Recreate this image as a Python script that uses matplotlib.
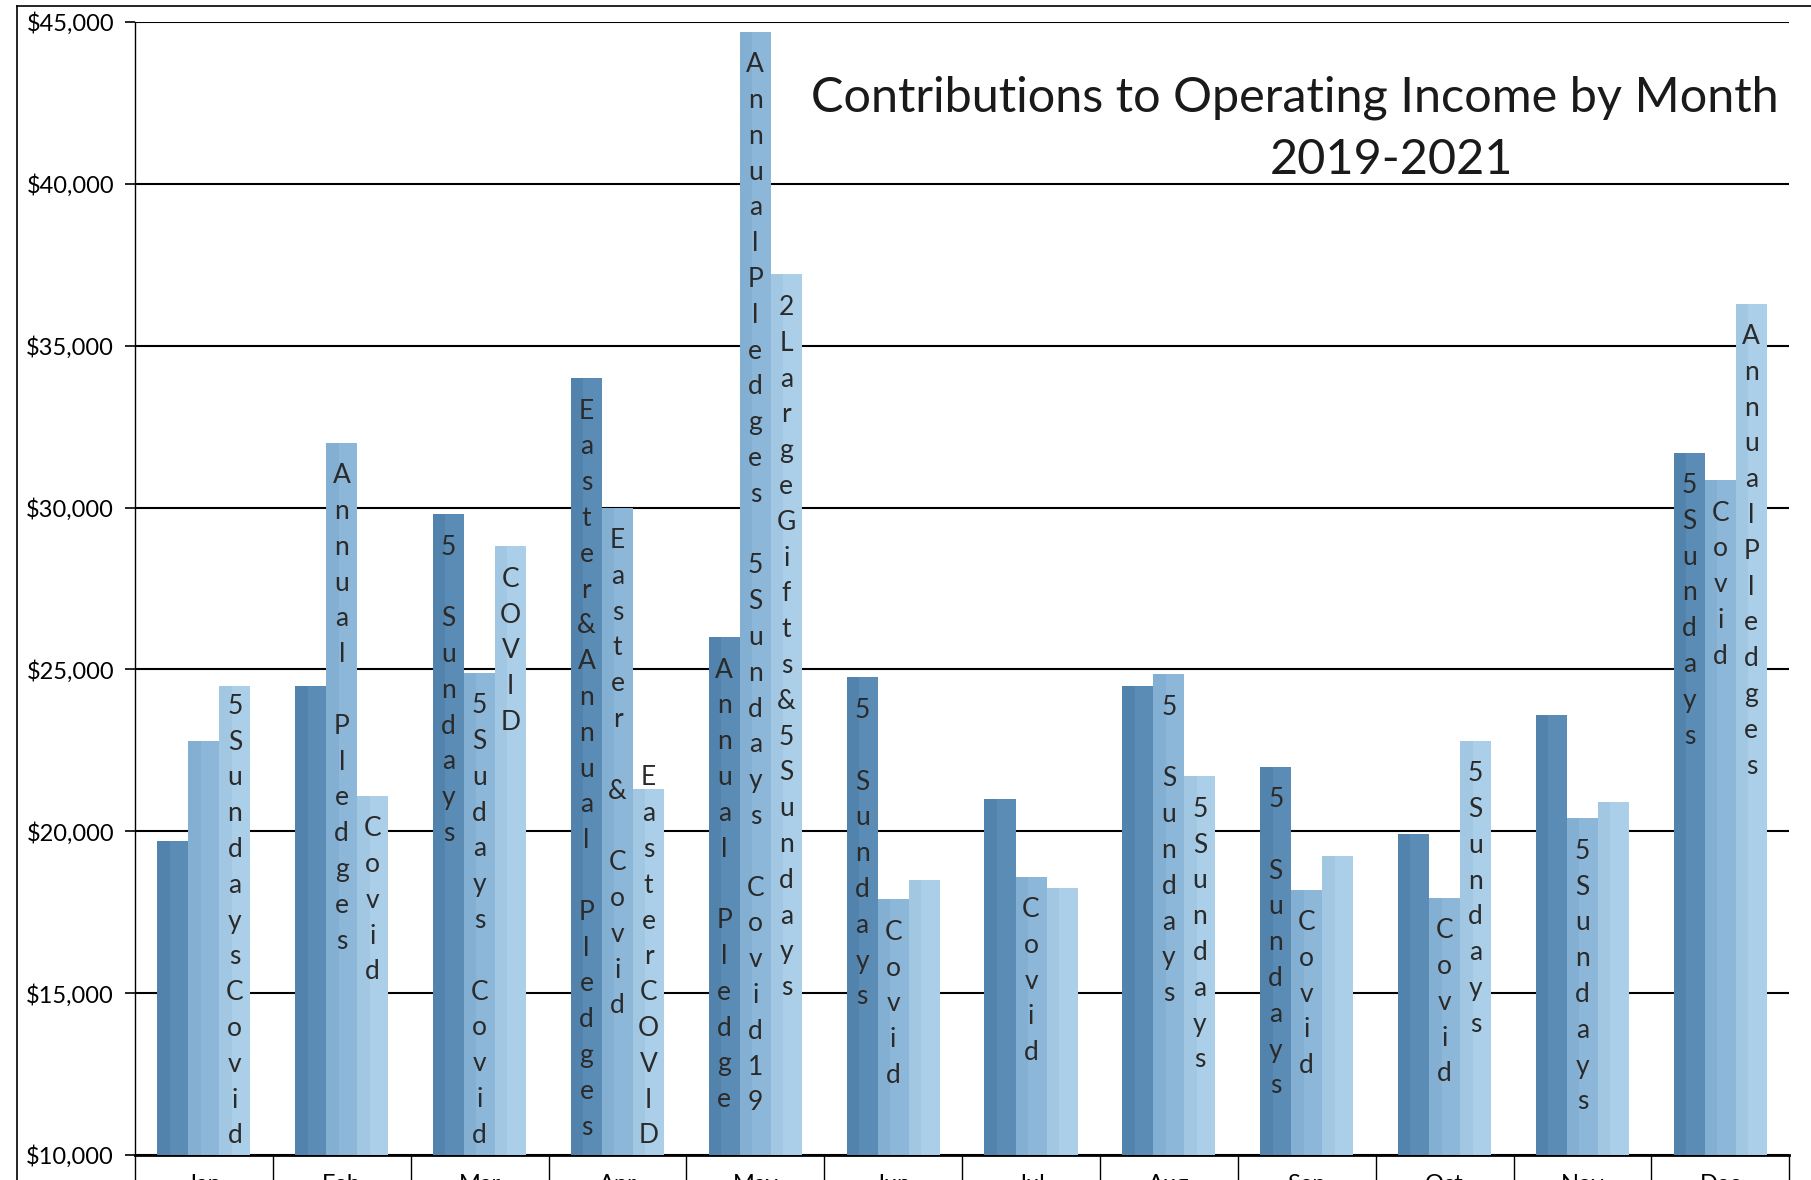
import matplotlib
matplotlib.use("Agg")
import matplotlib.pyplot as plt
from matplotlib.lines import Line2D
from matplotlib.ticker import FuncFormatter, MultipleLocator, FixedLocator
import numpy as np

plt.rcParams['font.family'] = ['Lato', 'DejaVu Sans']

months = ["Jan", "Feb", "Mar", "Apr", "May", "Jun", "Jul", "Aug", "Sep", "Oct", "Nov", "Dec"]
v2019 = [19700, 24500, 29800, 34000, 26000, 24750, 21000, 24500, 22000, 19900, 23600, 31700]
v2020 = [22800, 32000, 24900, 30000, 44700, 17900, 18600, 24850, 18200, 17950, 20400, 30850]
v2021 = [24500, 21100, 28800, 21300, 37200, 18500, 18250, 21700, 19250, 22800, 20900, 36300]

labels2019 = ["", "", "5 Sundays", "Easter&Annual Pledges", "Annual Pledge", "5 Sundays",
              "", "", "5 Sundays", "", "", "5Sundays"]
labels2020 = ["", "Annual Pledges", "5Sudays Covid", "Easter & Covid",
              "AnnualPledges 5Sundays Covid19", "Covid", "Covid", "5 Sundays",
              "Covid", "Covid", "5Sundays", "Covid"]
labels2021 = ["5SundaysCovid", "Covid", "COVID", "EasterCOVID", "2LargeGifts&5Sundays",
              "", "", "5Sundays", "", "5Sundays", "", "AnnualPledges"]

title1 = "Contributions to Operating Income by Month"
title2 = "2019-2021"

colors = ["#5b8cb5", "#8cb7d9", "#abcfe8"]
shade = ["#5183ad", "#82afd2", "#a1c7e2"]

W, H = 1811, 1180
fig = plt.figure(figsize=(W / 100, H / 100), dpi=100)
ax = fig.add_axes([0.0745, 0.0212, 0.988 - 0.0745, 0.9814 - 0.0212])

x = np.arange(len(months))
bw = 0.225
series = [v2019, v2020, v2021]
labs = [labels2019, labels2020, labels2021]
pitch = 35.8
first0 = 33
bottom_margin = 19

ax.set_ylim(10000, 45000)
ax.set_xlim(-0.5, len(months) - 0.5)
base_px = ax.transData.transform((0, 10000))[1]

for k, (vals, lab) in enumerate(zip(series, labs)):
    xs = x + (k - 1) * bw
    ax.bar(xs, vals, width=bw, color=colors[k], zorder=3, linewidth=0)
    ax.bar(xs - bw * 0.3, vals, width=bw * 0.4, color=shade[k], zorder=3, linewidth=0)
    for xi, v, s in zip(xs, vals, lab):
        if not s:
            continue
        avail = ax.transData.transform((0, v))[1] - base_px
        first = first0
        need = first + (len(s) - 1) * pitch + bottom_margin
        if need > avail:
            first = avail - bottom_margin - (len(s) - 1) * pitch
        for i, ch in enumerate(s):
            if ch == " ":
                continue
            ax.annotate(ch, xy=(xi, v), xytext=(0, -(first + i * pitch)),
                        textcoords="offset pixels", ha="center", va="center",
                        fontsize=19, color="#2a2a2a", zorder=5)

ax.yaxis.set_major_locator(MultipleLocator(5000))
ax.yaxis.set_major_formatter(FuncFormatter(lambda v, p: f"${v:,.0f}"))
ax.grid(axis="y", color="black", linewidth=1.5, zorder=1)
ax.set_xticks(x)
ax.set_xticklabels(months)
ax.xaxis.set_minor_locator(FixedLocator(np.arange(-0.5, len(months), 1.0)))
ax.tick_params(axis="x", which="major", length=0, pad=14, labelsize=17, colors="black")
ax.tick_params(axis="x", which="minor", length=40, width=1.0, direction="out", color="black")
ax.tick_params(axis="y", which="major", length=7, width=1.2, pad=8, labelsize=17,
               direction="out", color="black")
for sp in ["top", "right"]:
    ax.spines[sp].set_visible(False)
ax.spines["left"].set_color("black")
ax.spines["left"].set_linewidth(1.0)
ax.spines["bottom"].set_color("black")
ax.spines["bottom"].set_linewidth(2.0)
ax.set_axisbelow(True)

fig.text(0.715, 0.917, title1, ha="center", va="center", fontsize=35, color="#1a1a1a")
fig.text(0.7685, 0.864, title2, ha="center", va="center", fontsize=35, color="#1a1a1a")

fig.add_artist(Line2D([17 / W, 17 / W], [0, 1 - 6 / H], color="black", linewidth=1.2,
                      transform=fig.transFigure))
fig.add_artist(Line2D([17 / W, 1], [1 - 6 / H, 1 - 6 / H], color="black", linewidth=1.2,
                      transform=fig.transFigure))

fig.savefig("out.png", dpi=100, facecolor="white")
